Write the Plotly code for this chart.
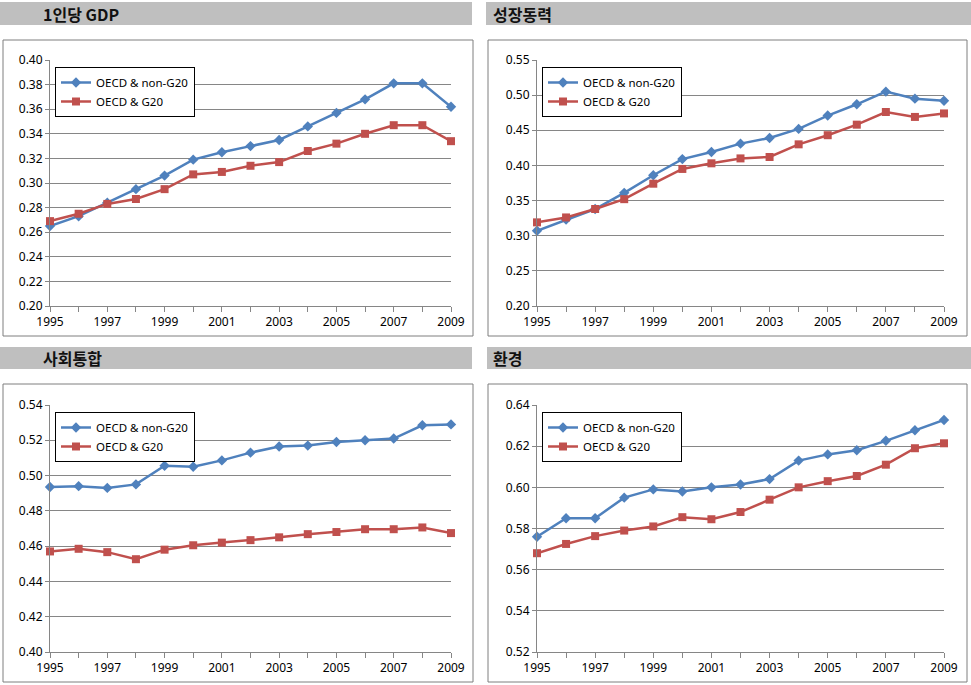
import plotly.graph_objects as go

W, H = 971, 685

years = list(range(1995, 2010))

gdp_non_g20 = [0.265, 0.273, 0.284, 0.295, 0.306, 0.319, 0.325, 0.330, 0.335, 0.346, 0.357, 0.368, 0.381, 0.381, 0.362]
gdp_g20 = [0.269, 0.275, 0.283, 0.287, 0.295, 0.307, 0.309, 0.314, 0.317, 0.326, 0.332, 0.340, 0.347, 0.347, 0.334]
growth_non_g20 = [0.307, 0.323, 0.338, 0.361, 0.386, 0.409, 0.419, 0.431, 0.439, 0.452, 0.471, 0.487, 0.505, 0.495, 0.492]
growth_g20 = [0.319, 0.326, 0.338, 0.352, 0.374, 0.395, 0.403, 0.410, 0.412, 0.430, 0.443, 0.458, 0.476, 0.469, 0.474]
social_non_g20 = [0.4935, 0.494, 0.493, 0.495, 0.5056, 0.505, 0.5086, 0.513, 0.5165, 0.517, 0.519, 0.520, 0.521, 0.5285, 0.529]
social_g20 = [0.457, 0.4585, 0.4566, 0.4526, 0.458, 0.4605, 0.462, 0.4634, 0.465, 0.4668, 0.468, 0.4696, 0.4696, 0.4706, 0.4674]
env_non_g20 = [0.576, 0.585, 0.585, 0.595, 0.599, 0.598, 0.600, 0.6014, 0.604, 0.613, 0.616, 0.618, 0.6226, 0.6277, 0.6327]
env_g20 = [0.568, 0.5725, 0.5763, 0.579, 0.581, 0.5855, 0.5845, 0.588, 0.594, 0.600, 0.603, 0.6055, 0.611, 0.619, 0.6214]

titles = ["1인당 GDP", "성장동력", "사회통합", "환경"]
series_names = ["OECD & non-G20", "OECD & G20"]
panel_data = [
    (gdp_non_g20, gdp_g20),
    (growth_non_g20, growth_g20),
    (social_non_g20, social_g20),
    (env_non_g20, env_g20),
]
y_ranges = [(0.20, 0.40, 0.02, ".2f"), (0.20, 0.55, 0.05, ".2f"), (0.40, 0.54, 0.02, ".2f"), (0.52, 0.64, 0.02, ".2f")]

BLUE = "#4F81BD"
RED = "#C0504D"
GRID = "#868686"
TICKFONT = dict(family="Noto Sans, DejaVu Sans, sans-serif", size=12, color="#000000")

# pixel layout (left, right, top, bottom)
plot_px = [(50, 451, 60, 306), (537, 944, 60, 306), (50, 451, 405, 652), (537, 944, 405, 652)]
box_px = [(3, 473, 40, 336), (488, 967, 40, 336), (3, 473, 384, 682), (488, 967, 384, 682)]
bar_px = [(0, 472, 2, 25), (486, 971, 2, 25), (0, 472, 347, 369), (487, 971, 347, 369)]
title_px = [(41, 14), (491, 14), (41, 358), (491, 358)]
legend_px = [(55, 67), (542, 67), (55, 412), (542, 412)]
LEG_W, LEG_H = 137, 47


def px_x(x):
    return x / W


def px_y(y):
    return 1 - y / H


fig = go.Figure()
shapes = []
annotations = []
layout_axes = {}

for i in range(4):
    n = "" if i == 0 else str(i + 1)
    xa, ya = "x" + n, "y" + n
    leg = "legend" if i == 0 else "legend" + str(i + 1)
    non, g20 = panel_data[i]
    fig.add_trace(go.Scatter(
        x=years, y=non, name=series_names[0], xaxis=xa, yaxis=ya, legend=leg,
        mode="lines+markers", line=dict(color=BLUE, width=2.5),
        marker=dict(symbol="diamond", size=8, color=BLUE), cliponaxis=False))
    fig.add_trace(go.Scatter(
        x=years, y=g20, name=series_names[1], xaxis=xa, yaxis=ya, legend=leg,
        mode="lines+markers", line=dict(color=RED, width=2.5),
        marker=dict(symbol="square", size=8, color=RED), cliponaxis=False))

    l, r, t, b = plot_px[i]
    y0, y1, dt, fmt = y_ranges[i]
    layout_axes["xaxis" + n] = dict(
        domain=[px_x(l), px_x(r)], anchor=ya, range=[1995, 2009],
        tickmode="linear", tick0=1995, dtick=2, ticks="outside", ticklen=5,
        tickcolor=GRID, showline=True, linecolor=GRID, showgrid=False,
        zeroline=False, tickfont=TICKFONT, automargin=False,
        minor=dict(dtick=1, tick0=1995, ticks="outside", ticklen=5, tickcolor=GRID, showgrid=False),
        fixedrange=True)
    layout_axes["yaxis" + n] = dict(
        domain=[px_y(b), px_y(t)], anchor=xa, range=[y0, y1],
        tickmode="linear", tick0=y0, dtick=dt, tickformat=fmt,
        ticks="outside", ticklen=4, tickcolor=GRID, showline=True, linecolor=GRID,
        showgrid=True, gridcolor=GRID, gridwidth=1, zeroline=False,
        tickfont=TICKFONT, automargin=False, fixedrange=True)

    # title bar
    bl, br, bt, bb = bar_px[i]
    shapes.append(dict(type="rect", xref="paper", yref="paper", x0=px_x(bl), x1=px_x(br),
                       y0=px_y(bb), y1=px_y(bt), fillcolor="#BFBFBF", line=dict(width=0), layer="below"))
    tx, ty = title_px[i]
    annotations.append(dict(text="<b>" + titles[i] + "</b>", xref="paper", yref="paper",
                            x=px_x(tx), y=px_y(ty), xanchor="left", yanchor="middle",
                            showarrow=False,
                            font=dict(family="Noto Sans CJK KR, sans-serif", size=16, color="#111111")))
    # chart box
    cl, cr, ct, cb = box_px[i]
    shapes.append(dict(type="rect", xref="paper", yref="paper", x0=px_x(cl), x1=px_x(cr),
                       y0=px_y(cb), y1=px_y(ct), line=dict(color="#7F7F7F", width=1),
                       fillcolor="rgba(0,0,0,0)", layer="below"))
    # legend shadow
    lx, ly = legend_px[i]
    shapes.append(dict(type="rect", xref="paper", yref="paper",
                       x0=px_x(lx + 3), x1=px_x(lx + LEG_W + 3),
                       y0=px_y(ly + LEG_H + 3), y1=px_y(ly + 3),
                       fillcolor="#A6A6A6", line=dict(width=0), layer="above"))
    layout_axes[leg] = dict(
        x=px_x(lx), y=px_y(ly), xanchor="left", yanchor="top",
        bgcolor="#FFFFFF", bordercolor="#000000", borderwidth=1,
        font=dict(family="Noto Sans, DejaVu Sans, sans-serif", size=11.5, color="#000000"),
        itemwidth=30, tracegroupgap=0)

fig.update_layout(
    width=W, height=H, margin=dict(l=0, r=0, t=0, b=0, pad=0, autoexpand=False),
    paper_bgcolor="#FFFFFF", plot_bgcolor="#FFFFFF",
    shapes=shapes, annotations=annotations, showlegend=True,
    **layout_axes)

fig.write_html("out.html", config={"displayModeBar": False},
               post_script="document.body.style.margin='0';document.body.style.overflow='hidden';")
